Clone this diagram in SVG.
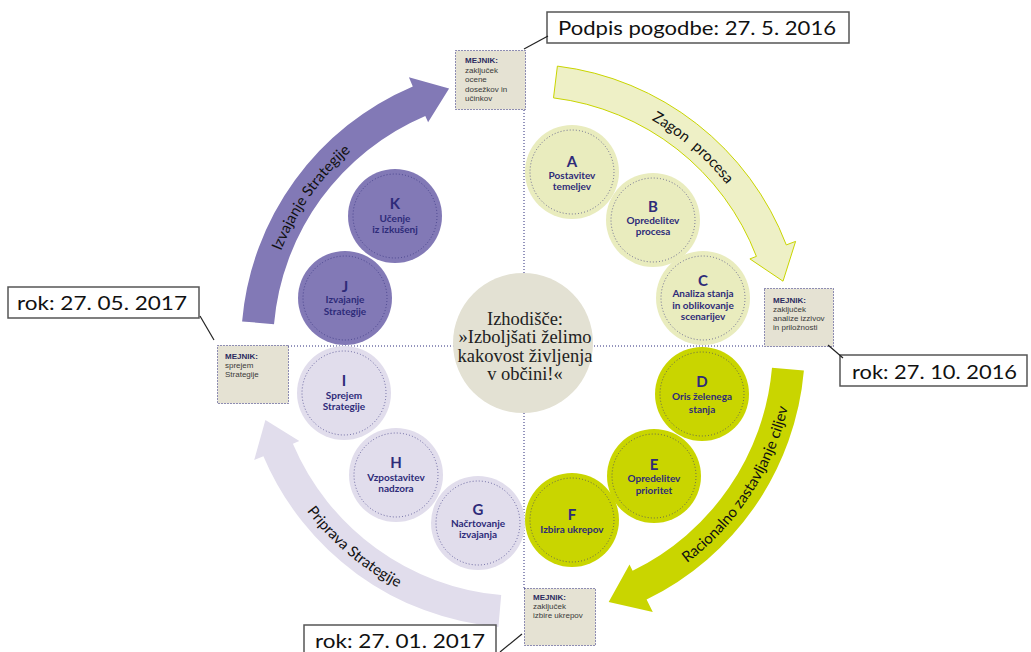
<svg xmlns="http://www.w3.org/2000/svg" xmlns:xlink="http://www.w3.org/1999/xlink" width="1031" height="652" viewBox="0 0 1031 652">
<style>
.guide{stroke:#2b2a7a;stroke-width:1;stroke-dasharray:1 2;fill:none}
.mj{fill:#e5e2d3;stroke:#2b2a7a;stroke-width:1;stroke-dasharray:1 2}
.mjt{font-family:"Liberation Sans",Arial,sans-serif;font-size:8px;fill:#3a3a3a}
.mjb{font-weight:bold;fill:#2b2a60}
.date{fill:#fff;stroke:#555;stroke-width:1.5}
.datet{font-family:Lato,"Liberation Sans",sans-serif;font-size:20px;fill:#111}
.lead{stroke:#222;stroke-width:1.2;fill:none}
.c1{fill:#e9ecbe}
.c2{fill:#c9d500}
.c3{fill:#e1ddec}
.c4{fill:#8279b6}
.dots{fill:none;stroke:#2e2b79;stroke-width:0.9;stroke-dasharray:0.9 2.2;opacity:0.8}
.let{font-family:Lato,"Liberation Sans",sans-serif;font-size:15px;font-weight:bold;fill:#2e2b79;text-anchor:middle}
.desc{font-family:Lato,"Liberation Sans",sans-serif;font-size:10px;font-weight:bold;fill:#2e2b79;text-anchor:middle}
.arct{font-family:Lato,"Liberation Sans",sans-serif;font-size:15px;fill:#111}
.ctr{font-family:"Liberation Serif","Times New Roman",serif;font-size:18.5px;fill:#222;text-anchor:middle}
</style>
<defs>
<path id="tpY" d="M 518.5 86.0 A 260 260 0 0 1 778.2 296.4"/>
<path id="tpP" d="M 264.0 368.7 A 260 260 0 0 1 455.7 94.9"/>
<path id="tpG" d="M 602.5 606.1 A 272 272 0 0 0 793.0 312.9"/>
<path id="tpL" d="M 255.1 393.2 A 272 272 0 0 0 523 618"/>
</defs>

<g id="guides">
<line class="guide" x1="524" y1="110" x2="524" y2="588"/>
<line class="guide" x1="288" y1="346" x2="764" y2="346"/>
</g>

<g id="cycle-arrows">
<path id="arrow-zagon" d="M 557.4 66.1 A 282 282 0 0 1 786.3 244.9 L 795.6 241.4 L 783.0 281.2 L 749.9 258.9 L 756.4 256.4 A 250 250 0 0 0 553.5 97.9 Z" fill="#eef0c6" stroke="#c9d500" stroke-width="1"/>
<path id="arrow-racionalno" d="M 803.9 370.6 A 282 282 0 0 1 646.6 599.5 L 652.8 612.0 L 608.7 602.0 L 629.5 564.4 L 632.6 570.7 A 250 250 0 0 0 772.0 367.8 Z" fill="#c9d500"/>
<path id="arrow-priprava" d="M 498.4 626.9 A 282 282 0 0 1 263.4 456.2 L 254.2 460.1 L 265.4 419.9 L 299.3 441.0 L 292.9 443.7 A 250 250 0 0 0 501.2 595.1 Z" fill="#e1ddec"/>
<path id="arrow-izvajanje" d="M 242.1 321.4 A 282 282 0 0 1 412.8 86.4 L 408.9 77.2 L 449.1 88.4 L 428.1 122.3 L 425.3 115.9 A 250 250 0 0 0 274.0 324.2 Z" fill="#8279b6"/>
<text class="arct" font-size="16"><textPath xlink:href="#tpY" startOffset="52%" text-anchor="middle" word-spacing="4">Zagon procesa</textPath></text>
<text class="arct"><textPath xlink:href="#tpP" startOffset="50%" text-anchor="middle">Izvajanje Strategije</textPath></text>
<text class="arct"><textPath xlink:href="#tpG" startOffset="50%" text-anchor="middle">Racionalno zastavljanje ciljev</textPath></text>
<text class="arct"><textPath xlink:href="#tpL" startOffset="50%" text-anchor="middle">Priprava Strategije</textPath></text>
</g>

<g id="center">
<circle cx="523" cy="343" r="70" fill="#e3e1d3"/>
<text class="ctr" x="525" y="325">Izhodišče:</text>
<text class="ctr" x="525" y="343">»Izboljšati želimo</text>
<text class="ctr" x="525" y="362">kakovost življenja</text>
<text class="ctr" x="525" y="380">v občini!«</text>
</g>

<g id="node-A"><circle class="c1" cx="572" cy="172" r="47"/><circle class="dots" cx="572" cy="172" r="42"/>
<text class="let" x="572" y="167">A</text><text class="desc" x="572" y="179">Postavitev</text><text class="desc" x="572" y="190">temeljev</text></g>
<g id="node-B"><circle class="c1" cx="653" cy="220" r="47"/><circle class="dots" cx="653" cy="220" r="42"/>
<text class="let" x="653" y="212">B</text><text class="desc" x="653" y="224">Opredelitev</text><text class="desc" x="653" y="235">procesa</text></g>
<g id="node-C"><circle class="c1" cx="703" cy="298" r="47"/><circle class="dots" cx="703" cy="298" r="42"/>
<text class="let" x="703" y="286">C</text><text class="desc" x="703" y="297">Analiza stanja</text><text class="desc" x="703" y="309">in oblikovanje</text><text class="desc" x="703" y="320">scenarijev</text></g>
<g id="node-D"><circle class="c2" cx="702" cy="394" r="47"/><circle class="dots" cx="702" cy="394" r="42"/>
<text class="let" x="702" y="387">D</text><text class="desc" x="702" y="400">Oris želenega</text><text class="desc" x="702" y="413">stanja</text></g>
<g id="node-E"><circle class="c2" cx="654" cy="476" r="47"/><circle class="dots" cx="654" cy="476" r="42"/>
<text class="let" x="654" y="470">E</text><text class="desc" x="654" y="482">Opredelitev</text><text class="desc" x="654" y="494">prioritet</text></g>
<g id="node-F"><circle class="c2" cx="572" cy="520" r="47"/><circle class="dots" cx="572" cy="520" r="42"/>
<text class="let" x="572" y="520">F</text><text class="desc" x="572" y="533">Izbira ukrepov</text></g>
<g id="node-G"><circle class="c3" cx="478" cy="523" r="47"/><circle class="dots" cx="478" cy="523" r="42"/>
<text class="let" x="478" y="515">G</text><text class="desc" x="478" y="527">Načrtovanje</text><text class="desc" x="478" y="538">izvajanja</text></g>
<g id="node-H"><circle class="c3" cx="396" cy="475" r="47"/><circle class="dots" cx="396" cy="475" r="42"/>
<text class="let" x="396" y="468">H</text><text class="desc" x="396" y="481">Vzpostavitev</text><text class="desc" x="396" y="492">nadzora</text></g>
<g id="node-I"><circle class="c3" cx="344" cy="393" r="47"/><circle class="dots" cx="344" cy="393" r="42"/>
<text class="let" x="344" y="386">I</text><text class="desc" x="344" y="399">Sprejem</text><text class="desc" x="344" y="410">Strategije</text></g>
<g id="node-J"><circle class="c4" cx="345" cy="298" r="47"/><circle class="dots" cx="345" cy="298" r="42"/>
<text class="let" x="345" y="292">J</text><text class="desc" x="345" y="303">Izvajanje</text><text class="desc" x="345" y="315">Strategije</text></g>
<g id="node-K"><circle class="c4" cx="395" cy="216" r="47"/><circle class="dots" cx="395" cy="216" r="42"/>
<text class="let" x="395" y="209">K</text><text class="desc" x="395" y="222">Učenje</text><text class="desc" x="395" y="233">iz izkušenj</text></g>

<g id="mejnik-top"><rect class="mj" x="455.5" y="50.5" width="70" height="59"/>
<text class="mjt" x="465" y="63"><tspan class="mjb">MEJNIK:</tspan><tspan x="465" dy="9.5">zaključek</tspan><tspan x="465" dy="9.5">ocene</tspan><tspan x="465" dy="9.5">dosežkov in</tspan><tspan x="465" dy="9.5">učinkov</tspan></text></g>
<g id="mejnik-right"><rect class="mj" x="764.5" y="288.5" width="69" height="58"/>
<text class="mjt" x="773" y="303"><tspan class="mjb">MEJNIK:</tspan><tspan x="773" dy="9">zaključek</tspan><tspan x="773" dy="9">analize izzivov</tspan><tspan x="773" dy="9">in priložnosti</tspan></text></g>
<g id="mejnik-left"><rect class="mj" x="217.5" y="345.5" width="71" height="58"/>
<text class="mjt" x="225" y="359"><tspan class="mjb">MEJNIK:</tspan><tspan x="225" dy="9">sprejem</tspan><tspan x="225" dy="9">Strategije</tspan></text></g>
<g id="mejnik-bottom"><rect class="mj" x="524.5" y="588.5" width="71" height="57"/>
<text class="mjt" x="533" y="600"><tspan class="mjb">MEJNIK:</tspan><tspan x="533" dy="9">zaključek</tspan><tspan x="533" dy="9">izbire ukrepov</tspan></text></g>

<g id="date-top"><rect class="date" x="547" y="12" width="302" height="31"/><text class="datet" x="558" y="35" textLength="278" lengthAdjust="spacingAndGlyphs">Podpis pogodbe: 27. 5. 2016</text></g>
<g id="date-left"><rect class="date" x="8" y="287" width="191" height="31"/><text class="datet" x="17" y="310" textLength="170" lengthAdjust="spacingAndGlyphs">rok: 27. 05. 2017</text></g>
<g id="date-right"><rect class="date" x="840" y="355" width="187" height="31"/><text class="datet" x="852" y="379" textLength="165" lengthAdjust="spacingAndGlyphs">rok: 27. 10. 2016</text></g>
<g id="date-bottom"><rect class="date" x="304" y="625" width="192" height="40"/><text class="datet" x="315" y="648" textLength="170" lengthAdjust="spacingAndGlyphs">rok: 27. 01. 2017</text></g>

<g id="connectors">
<line class="lead" x1="548" y1="36" x2="524" y2="49"/>
<line class="lead" x1="200" y1="316" x2="214" y2="340"/>
<line class="lead" x1="828" y1="345" x2="843" y2="358"/>
<line class="lead" x1="500" y1="652" x2="522" y2="634"/>
</g>
</svg>
